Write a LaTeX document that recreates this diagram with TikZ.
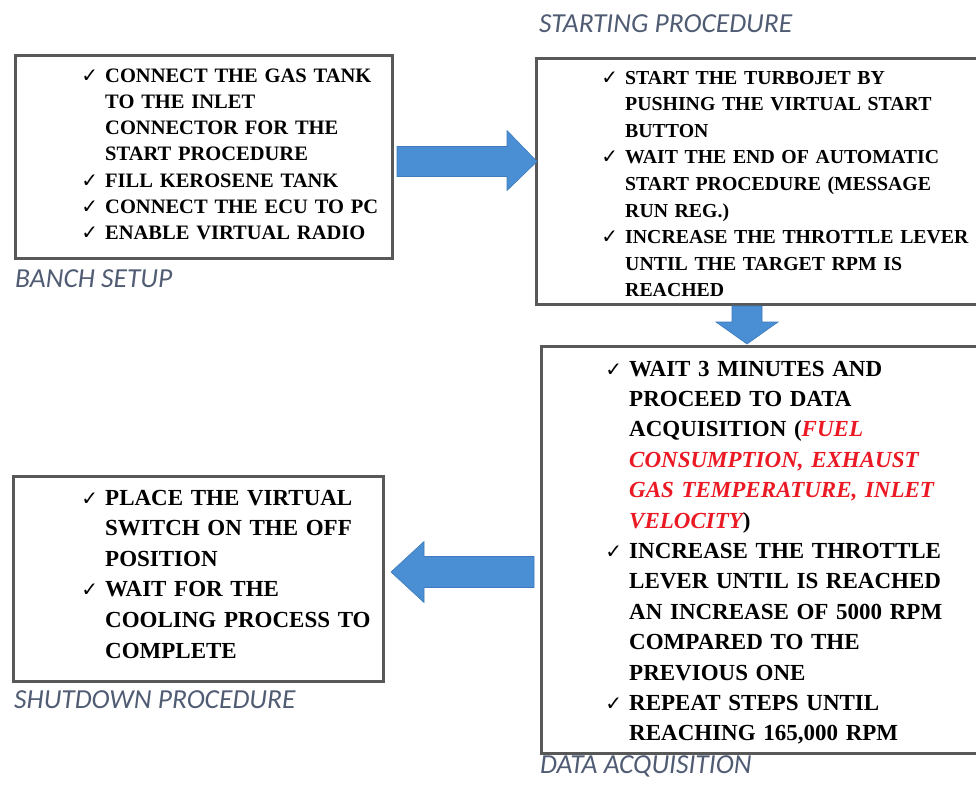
\documentclass[tikz,border=0pt]{standalone}
\usepackage{fontspec}
\setmainfont{Liberation Serif}
\newfontfamily\capfont{Carlito}
\newfontfamily\symfont{DejaVu Sans}
\usetikzlibrary{calc}

\definecolor{framegray}{RGB}{88,88,88}
\definecolor{arrowblue}{RGB}{74,142,211}
\definecolor{arrowedge}{RGB}{62,122,188}
\definecolor{captionslate}{RGB}{80,92,115}
\definecolor{alertred}{RGB}{235,25,35}

% check mark hung to the left of each item
\newcommand{\chk}{\leavevmode\llap{{\symfont\mdseries\fontsize{20}{20}\selectfont ✓}\hspace{7pt}}}
\newcommand{\hot}[1]{\textcolor{alertred}{\itshape #1}}

\begin{document}
\begin{tikzpicture}[x=1pt,y=-1pt,
  panel/.style={draw=framegray, line width=3pt, fill=white, anchor=north west, inner sep=0pt},
  steps/.style={anchor=base west, align=left, inner sep=0pt, text width=#1},
  caption/.style={anchor=base west, inner sep=0pt,
    font=\capfont\itshape\fontsize{27.5}{30}\selectfont, text=captionslate},
  blockarrow/.style={fill=arrowblue, draw=arrowedge, line width=0.6pt, line join=miter}
]
\useasboundingbox (0,0) rectangle (976,784);

% the four stage panels
\node[panel, minimum width=377pt, minimum height=203pt] (b1) at (14,54) {};
\node[panel, minimum width=445pt, minimum height=246pt] (b2) at (535,57) {};
\node[panel, minimum width=440pt, minimum height=407pt] (b3) at (540,345) {};
\node[panel, minimum width=370pt, minimum height=205pt] (b4) at (12,475) {};

% panel contents
\node[steps=300pt, font=\bfseries\fontsize{20.5}{26.3}\selectfont] (t1) at (105,82)
  {\chk CONNECT THE GAS TANK\\
   TO THE INLET\\
   CONNECTOR FOR THE\\
   START PROCEDURE\\
   \chk FILL KEROSENE TANK\\
   \chk CONNECT THE ECU TO PC\\
   \chk ENABLE VIRTUAL RADIO};

\node[steps=345pt, font=\bfseries\fontsize{19.8}{26.6}\selectfont] (t2) at (625,84)
  {\chk START THE TURBOJET BY\\
   PUSHING THE VIRTUAL START\\
   BUTTON\\
   \chk WAIT THE END OF AUTOMATIC\\
   START PROCEDURE (MESSAGE\\
   RUN REG.)\\
   \chk INCREASE THE THROTTLE LEVER\\
   UNTIL THE TARGET RPM IS\\
   REACHED};

\node[steps=335pt, font=\bfseries\fontsize{23}{30.4}\selectfont] (t3) at (629,376)
  {\chk WAIT 3 MINUTES AND\\
   PROCEED TO DATA\\
   ACQUISITION (\hot{FUEL}\\
   \hot{CONSUMPTION, EXHAUST}\\
   \hot{GAS TEMPERATURE, INLET}\\
   \hot{VELOCITY})\\
   \chk INCREASE THE THROTTLE\\
   LEVER UNTIL IS REACHED\\
   AN INCREASE OF 5000 RPM\\
   COMPARED TO THE\\
   PREVIOUS ONE\\
   \chk REPEAT STEPS UNTIL\\
   REACHING 165,000 RPM};

\node[steps=270pt, font=\bfseries\fontsize{23}{30.6}\selectfont] (t4) at (105,505)
  {\chk PLACE THE VIRTUAL\\
   SWITCH ON THE OFF\\
   POSITION\\
   \chk WAIT FOR THE\\
   COOLING PROCESS TO\\
   COMPLETE};

% stage captions
\node[caption] (c1) at (15,287) {BANCH SETUP};
\node[caption] (c2) at (539,33) {STARTING PROCEDURE};
\node[caption] (c3) at (14,708) {SHUTDOWN PROCEDURE};
\node[caption] (c4) at (540,773) {DATA ACQUISITION};

% block arrows between the panels
\coordinate (r0) at ($(b1.east)+(3,4.5)$);
\coordinate (r1) at ($(b2.west)+(2,-20)$);
\path[blockarrow] let \p1=(r0), \p2=(r1) in
  (\x1,\y1+15pt) -- (\x2-30pt,\y1+15pt) -- (\x2-30pt,\y1+31pt) -- (\x2,\y1)
  -- (\x2-30pt,\y1-29pt) -- (\x2-30pt,\y1-15pt) -- (\x1,\y1-15pt) -- cycle;

\coordinate (d0) at ($(b2.south west)+(212,0)$);
\coordinate (d1) at ($(b3.north west)+(207,-1)$);
\path[blockarrow] let \p1=(d0), \p2=(d1) in
  (\x1-15pt,\y1) -- (\x1-15pt,\y2+22pt) -- (\x1-31pt,\y2+22pt) -- (\x1,\y2)
  -- (\x1+31pt,\y2+22pt) -- (\x1+15pt,\y2+22pt) -- (\x1+15pt,\y1) -- cycle;

\coordinate (l0) at ($(b3.west)+(-6,22)$);
\coordinate (l1) at ($(b4.east)+(6,-6.5)$);
\path[blockarrow] let \p1=(l0), \p2=(l1) in
  (\x1,\y1+15.5pt) -- (\x2+33pt,\y1+15.5pt) -- (\x2+33pt,\y1+30.5pt) -- (\x2,\y1)
  -- (\x2+33pt,\y1-30.5pt) -- (\x2+33pt,\y1-15.5pt) -- (\x1,\y1-15.5pt) -- cycle;
\end{tikzpicture}
\end{document}
